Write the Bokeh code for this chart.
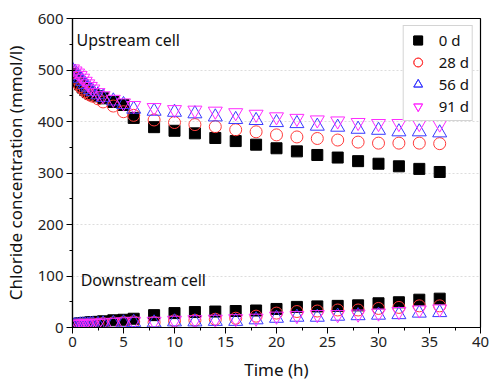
from bokeh.plotting import figure
from bokeh.models import Range1d, SingleIntervalTicker, Label, Legend
from bokeh.embed import file_html
from bokeh.resources import INLINE

# Time (h)
t = [0, 0.25, 0.5, 0.75, 1, 1.25, 1.5, 1.75, 2, 2.5, 3, 4, 5, 6,
     8, 10, 12, 14, 16, 18, 20, 22, 24, 26, 28, 30, 32, 34, 36]

# Upstream cell chloride (mmol/l)
up_0d = [492, 485, 478, 472, 466, 461, 457, 454, 452, 449, 445, 438, 432, 407,
         389, 382, 377, 368, 362, 355, 348, 342, 335, 330, 323, 318, 313, 308, 302]
up_28d = [495, 484, 474, 468, 463, 458, 454, 451, 449, 444, 438, 430, 419, 412,
          403, 398, 394, 390, 384, 380, 374, 370, 367, 364, 360, 358, 358, 358, 357]
up_56d = [500, 496, 490, 484, 478, 472, 467, 462, 458, 452, 447, 440, 433, 424,
          420, 418, 415, 409, 404, 402, 398, 396, 391, 389, 385, 383, 380, 380, 378]
up_91d = [502, 498, 494, 489, 484, 478, 473, 468, 463, 456, 450, 443, 436, 431,
          427, 423, 422, 420, 417, 414, 409, 406, 403, 401, 398, 396, 396, 396, 395]

# Downstream cell chloride (mmol/l)
dn_0d = [6, 7, 7, 8, 8, 9, 9, 10, 10, 11, 12, 14, 15, 17,
         24, 28, 30, 31, 32, 33, 36, 40, 41, 42, 43, 47, 49, 54, 56]
dn_28d = [5, 5, 5, 6, 6, 6, 6, 7, 7, 7, 8, 9, 10, 11,
          10, 13, 14, 16, 18, 22, 28, 31, 32, 34, 34, 37, 39, 42, 42]
dn_56d = [4, 4, 4, 5, 5, 5, 5, 6, 6, 6, 7, 8, 9, 10,
          9, 11, 11, 12, 12, 15, 18, 20, 20, 22, 23, 24, 25, 28, 29]
dn_91d = [6, 6, 6, 6, 7, 7, 7, 7, 8, 8, 9, 10, 11, 12,
          12, 14, 15, 16, 17, 18, 22, 23, 25, 25, 26, 28, 31, 34, 36]

labels = ["0 d", "28 d", "56 d", "91 d"]
x_ticks_interval = 5
y_ticks_interval = 100

FONT = "Noto Sans"

p = figure(width=489, height=383, output_backend="svg", toolbar_location=None,
           x_range=Range1d(0, 40), y_range=Range1d(0, 600),
           min_border_left=72, min_border_right=9, min_border_top=18, min_border_bottom=54)

p.outline_line_color = "black"
p.outline_line_width = 1.2
p.background_fill_color = "white"
p.border_fill_color = "white"

p.xaxis.ticker = SingleIntervalTicker(interval=x_ticks_interval, num_minor_ticks=2)
p.yaxis.ticker = SingleIntervalTicker(interval=y_ticks_interval, num_minor_ticks=2)

for ax in (p.xaxis[0], p.yaxis[0]):
    ax.axis_line_color = "black"
    ax.axis_line_width = 1.2
    ax.major_tick_line_color = "black"
    ax.minor_tick_line_color = "black"
    ax.major_tick_out = 6
    ax.major_tick_in = 0
    ax.minor_tick_out = 3
    ax.minor_tick_in = 0
    ax.major_label_text_font = FONT
    ax.major_label_text_font_size = "15px"
    ax.major_label_text_color = "#222222"
    ax.axis_label_text_font = FONT
    ax.axis_label_text_font_size = "17px"
    ax.axis_label_text_font_style = "normal"
    ax.axis_label_text_color = "#111111"
    ax.major_label_standoff = 3

p.xaxis.axis_label = "Time (h)"
p.yaxis.axis_label = "Chloride concentration (mmol/l)"
p.xaxis.axis_label_standoff = 8
p.yaxis.axis_label_standoff = 8

p.xgrid.grid_line_color = None
p.ygrid.grid_line_color = "#dddddd"
p.ygrid.grid_line_dash = "2 2"

styles = [
    dict(marker="square", size=11, fill_color="black", line_color="black", fill_alpha=1.0),
    dict(marker="circle", size=12, fill_color=None, line_color="#ff3b3b"),
    dict(marker="triangle", size=14, fill_color=None, line_color="#3a3aff"),
    dict(marker="inverted_triangle", size=14, fill_color=None, line_color="#ff2bff"),
]

ups = [up_0d, up_28d, up_56d, up_91d]
dns = [dn_0d, dn_28d, dn_56d, dn_91d]

items = []
for lab, st, u, d in zip(labels, styles, ups, dns):
    r1 = p.scatter(t, u, line_width=1, **st)
    r2 = p.scatter(t, d, line_width=1, **st)
    items.append((lab, [r1, r2]))

legend = Legend(items=items, location="top_right")
legend.label_text_font = FONT
legend.label_text_font_size = "15px"
legend.label_text_color = "#111111"
legend.border_line_color = "#aaaaaa"
legend.border_line_width = 1
legend.background_fill_color = "white"
legend.background_fill_alpha = 1
legend.glyph_width = 22
legend.glyph_height = 22
legend.label_height = 22
legend.spacing = -6
legend.padding = 3
legend.margin = 7
legend.label_standoff = 10
p.add_layout(legend, "center")

p.add_layout(Label(x=0.4, y=558, text="Upstream cell", text_font=FONT,
                   text_font_size="16px", text_color="#111111", text_baseline="middle"))
p.add_layout(Label(x=0.8, y=93, text="Downstream cell", text_font=FONT,
                   text_font_size="16px", text_color="#111111", text_baseline="middle"))

open("out.html", "w").write(file_html(p, INLINE))
